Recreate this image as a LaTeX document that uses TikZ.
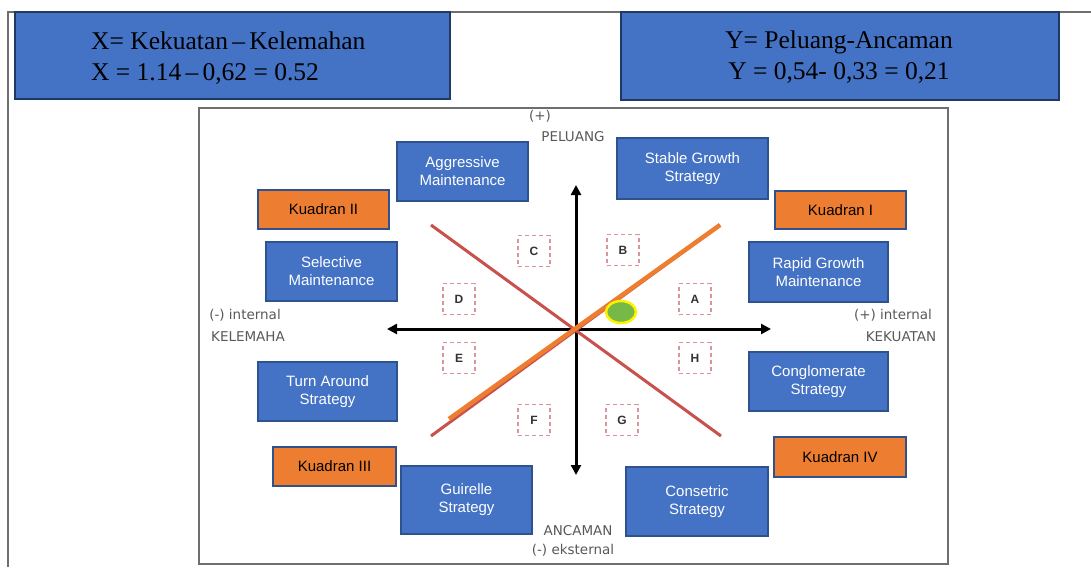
\documentclass[tikz,border=0pt]{standalone}
\usepackage{fontspec}
\setmainfont{Liberation Serif}
\newfontfamily\arialf{Liberation Sans}
\newfontfamily\dejaf{DejaVu Sans}
\usetikzlibrary{arrows.meta,shapes.geometric}
\definecolor{boxblue}{HTML}{4472C4}
\definecolor{boxedge}{HTML}{2F528F}
\definecolor{outedge}{HTML}{203864}
\definecolor{kuorange}{HTML}{ED7D31}
\definecolor{redline}{HTML}{C9514B}
\definecolor{greenpt}{HTML}{76B947}
\definecolor{dashpink}{HTML}{D9959B}
\definecolor{labgrey}{HTML}{595959}
\definecolor{framegrey}{HTML}{6E6E6E}
\begin{document}
\begin{tikzpicture}[x=1pt,y=-1pt,
  outbox/.style={draw=outedge, line width=2pt, fill=boxblue, inner sep=0pt},
  outtext/.style={text=black, font=\fontsize{25.5}{30.5}\selectfont, inner sep=0pt},
  bluebox/.style={draw=boxedge, line width=1.5pt, fill=boxblue, text=white, align=center, font=\arialf\fontsize{15}{18}\selectfont, inner sep=0pt},
  orangebox/.style={draw=boxedge, line width=1.5pt, fill=kuorange, text=black, font=\arialf\fontsize{15}{18}\selectfont, inner sep=0pt},
  dashbox/.style={draw=dashpink, dash pattern=on 4pt off 3pt, line width=1.2pt, minimum width=32pt, minimum height=31pt, font=\arialf\bfseries\fontsize{12}{14}\selectfont, text=black!80, inner sep=0pt},
  glabel/.style={text=labgrey, font=\dejaf\fontsize{13.5}{16}\selectfont, inner sep=0pt},
  axisline/.style={line width=3pt, {Triangle[length=10pt,width=10pt]}-{Triangle[length=10pt,width=10pt]}},
  redstroke/.style={draw=redline, line width=3pt},
  orangestroke/.style={draw=kuorange, line width=4.5pt},
  pointmark/.style={draw=yellow, line width=2.5pt, fill=greenpt, ellipse, minimum width=30pt, minimum height=22pt, inner sep=0pt}
]
\useasboundingbox (0,0) rectangle (1091,567);
\fill[white] (0,0) rectangle (1091,567);

% outer frame
\coordinate (ftr) at (1091,12);
\coordinate (ftl) at (8,12);
\coordinate (fbl) at (8,567);
\draw[framegrey, line width=2pt] (ftr) -- (ftl) -- (fbl);

% top boxes
\node[outbox, minimum width=435pt, minimum height=87pt] (xbox) at (232.5,55.5) {};
\node[outtext, anchor=west, align=left] (xtext) at (91,58) {X= Kekuatan\,–\,Kelemahan\\X = 1.14\,–\,0,62 = 0.52};
\node[outbox, minimum width=438pt, minimum height=88pt] (ybox) at (840,56) {};
\node[outtext, align=center] (ytext) at (839,57) {Y= Peluang-Ancaman\\Y = 0,54- 0,33 = 0,21};

% inner frame
\draw[framegrey, line width=1.5pt] (199,108) rectangle (948,564);

% axes
\coordinate (O) at (576,329);
\coordinate (ytop) at (576,185);
\coordinate (ybot) at (576,475);
\coordinate (xleft) at (387,329);
\coordinate (xright) at (771,329);
\draw[axisline] (ytop) -- (ybot);
\draw[axisline] (xleft) -- (xright);

% diagonal lines
\coordinate (r1a) at (431,225);
\coordinate (r1b) at (721,436);
\coordinate (r2a) at (431,436);
\coordinate (r2b) at (720,225);
\coordinate (o2a) at (449,419);
\draw[redstroke] (r1a) -- (r1b);
\draw[redstroke] (r2a) -- (r2b);
\draw[orangestroke] (o2a) -- (r2b);

% position point
\node[pointmark] (pt) at (621,312) {};

% axis labels
\node[glabel] (plus) at (540,116) {(+)};
\node[glabel] (peluang) at (573,137) {PELUANG};
\node[glabel] (minint) at (245,315) {(-) internal};
\node[glabel] (kelemaha) at (248,337) {KELEMAHA};
\node[glabel] (plusint) at (893,315) {(+) internal};
\node[glabel] (kekuatan) at (901,337) {KEKUATAN};
\node[glabel] (ancaman) at (578,531) {ANCAMAN};
\node[glabel] (ekst) at (573,550) {(-) eksternal};

% dashed letter boxes
\node[dashbox] (bC) at (534,251) {C};
\node[dashbox] (bB) at (623,250) {B};
\node[dashbox] (bD) at (459,299) {D};
\node[dashbox] (bA) at (695,299) {A};
\node[dashbox] (bE) at (459,358) {E};
\node[dashbox] (bH) at (695,358) {H};
\node[dashbox] (bF) at (534,420) {F};
\node[dashbox] (bG) at (622,420) {G};

% strategy boxes
\node[bluebox, minimum width=131pt, minimum height=59pt] (aggr) at (462.5,171.5) {Aggressive\\Maintenance};
\node[bluebox, minimum width=151pt, minimum height=61pt] (stable) at (692.5,168.5) {Stable Growth\\Strategy};
\node[bluebox, minimum width=131pt, minimum height=59pt] (selec) at (331.5,271.5) {Selective\\Maintenance};
\node[bluebox, minimum width=139pt, minimum height=60pt] (rapid) at (818.5,272) {Rapid Growth\\Maintenance};
\node[bluebox, minimum width=139pt, minimum height=59pt] (turn) at (327.5,391.5) {Turn Around\\Strategy};
\node[bluebox, minimum width=139pt, minimum height=59pt] (congl) at (818.5,381.5) {Conglomerate\\Strategy};
\node[bluebox, minimum width=131pt, minimum height=68pt] (guir) at (466.5,500) {Guirelle\\Strategy};
\node[bluebox, minimum width=142pt, minimum height=69pt] (cons) at (697,501.5) {Consetric\\Strategy};

% quadrant boxes
\node[orangebox, minimum width=131pt, minimum height=39pt] (k2) at (323.5,209.5) {Kuadran II};
\node[orangebox, minimum width=131pt, minimum height=38pt] (k1) at (840.5,210) {Kuadran I};
\node[orangebox, minimum width=123pt, minimum height=39pt] (k3) at (334.5,466.5) {Kuadran III};
\node[orangebox, minimum width=132pt, minimum height=40pt] (k4) at (840,457) {Kuadran IV};
\end{tikzpicture}
\end{document}
